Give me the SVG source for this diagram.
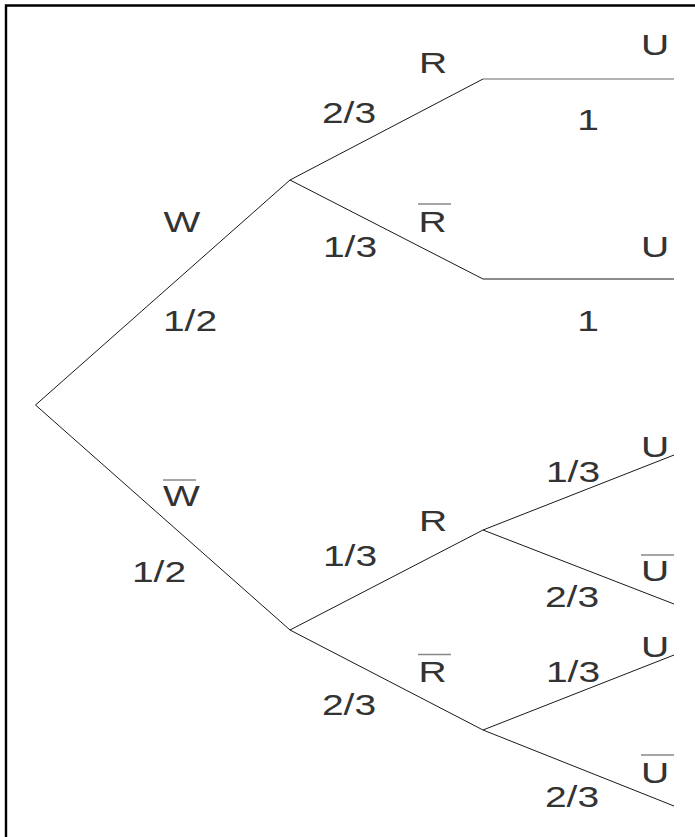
<svg xmlns="http://www.w3.org/2000/svg" width="695" height="837" viewBox="0 0 695 837">
<style>
.t{font-family:"Liberation Sans",Arial,sans-serif;font-size:30px;fill:#333;text-anchor:middle}
.e{stroke:#1a1a1a;stroke-width:1;fill:none}
.g{stroke:#999;stroke-width:1.6;fill:none}
.o{stroke:#888;stroke-width:1.3}
</style>
<rect x="0" y="0" width="695" height="837" fill="#fff"/>
<path d="M6,837 V5.5 H695" fill="none" stroke="#000" stroke-width="2.4"/>
<g id="connectors">
<line class="e" x1="35.5" y1="405" x2="290" y2="180"/>
<line class="e" x1="35.5" y1="405" x2="290" y2="630"/>
<line class="e" x1="290" y1="180" x2="483" y2="79"/>
<line class="g" x1="483" y1="79" x2="674" y2="79"/>
<line class="e" x1="290" y1="180" x2="483" y2="279"/>
<line class="e" x1="483" y1="279" x2="674" y2="279"/>
<line class="e" x1="290" y1="630" x2="483" y2="530"/>
<line class="e" x1="483" y1="530" x2="674" y2="455"/>
<line class="e" x1="483" y1="530" x2="674" y2="604"/>
<line class="e" x1="290" y1="630" x2="483" y2="730"/>
<line class="e" x1="483" y1="730" x2="674" y2="655"/>
<line class="e" x1="483" y1="730" x2="674" y2="806"/>
</g>
<g id="W">
<text class="t" transform="translate(182,232) scale(1.3,1)">W</text>
<text class="t" transform="translate(190,331) scale(1.3,1)">1/2</text>
</g>
<g id="Wbar">
<text class="t" transform="translate(181.5,506) scale(1.3,1)">W</text>
<line class="o" x1="163" y1="480" x2="196" y2="480"/>
<text class="t" transform="translate(159,582) scale(1.3,1)">1/2</text>
</g>
<g id="W_R">
<text class="t" transform="translate(433,73) scale(1.3,1)">R</text>
<text class="t" transform="translate(349,123) scale(1.3,1)">2/3</text>
</g>
<g id="W_R_U">
<text class="t" transform="translate(655,55) scale(1.3,1)">U</text>
<text class="t" transform="translate(588,130) scale(1.3,1)">1</text>
</g>
<g id="W_Rbar">
<text class="t" transform="translate(432.5,232) scale(1.3,1)">R</text>
<line class="o" x1="418" y1="204" x2="451" y2="204"/>
<text class="t" transform="translate(350,257) scale(1.3,1)">1/3</text>
</g>
<g id="W_Rbar_U">
<text class="t" transform="translate(655,257) scale(1.3,1)">U</text>
<text class="t" transform="translate(588,331) scale(1.3,1)">1</text>
</g>
<g id="Wbar_R">
<text class="t" transform="translate(433,531) scale(1.3,1)">R</text>
<text class="t" transform="translate(350,566) scale(1.3,1)">1/3</text>
</g>
<g id="Wbar_R_U">
<text class="t" transform="translate(655,457) scale(1.3,1)">U</text>
<text class="t" transform="translate(573,482) scale(1.3,1)">1/3</text>
</g>
<g id="Wbar_R_Ubar">
<text class="t" transform="translate(655,581) scale(1.3,1)">U</text>
<line class="o" x1="641" y1="555" x2="674" y2="555"/>
<text class="t" transform="translate(572,607) scale(1.3,1)">2/3</text>
</g>
<g id="Wbar_Rbar">
<text class="t" transform="translate(432.5,682) scale(1.3,1)">R</text>
<line class="o" x1="418" y1="654.5" x2="451" y2="654.5"/>
<text class="t" transform="translate(349,715) scale(1.3,1)">2/3</text>
</g>
<g id="Wbar_Rbar_U">
<text class="t" transform="translate(655,657) scale(1.3,1)">U</text>
<text class="t" transform="translate(573,682) scale(1.3,1)">1/3</text>
</g>
<g id="Wbar_Rbar_Ubar">
<text class="t" transform="translate(655,783) scale(1.3,1)">U</text>
<line class="o" x1="641" y1="755" x2="674" y2="755"/>
<text class="t" transform="translate(572,807) scale(1.3,1)">2/3</text>
</g>
</svg>
